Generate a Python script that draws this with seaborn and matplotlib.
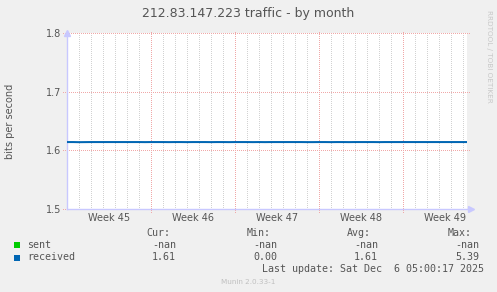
import matplotlib
matplotlib.use("Agg")
import matplotlib.pyplot as plt
import seaborn as sns
import pandas as pd
import numpy as np

# ---- data ----
title = "212.83.147.223 traffic - by month"
ylabel = "bits per second"
week_labels = ["Week 45", "Week 46", "Week 47", "Week 48", "Week 49"]
week_label_pos = [3.5, 10.5, 17.5, 24.5, 31.5]     # days from left edge
week_bounds = [7, 14, 21, 28]                       # Monday boundaries (days)
x_days = [0.0, 0.5, 1.0, 1.5, 2.0, 2.5, 3.0, 3.5, 4.0, 4.5, 5.0, 5.5, 6.0, 6.5,
          7.0, 7.5, 8.0, 8.5, 9.0, 9.5, 10.0, 10.5, 11.0, 11.5, 12.0, 12.5, 13.0,
          13.5, 14.0, 14.5, 15.0, 15.5, 16.0, 16.5, 17.0, 17.5, 18.0, 18.5, 19.0,
          19.5, 20.0, 20.5, 21.0, 21.5, 22.0, 22.5, 23.0, 23.5, 24.0, 24.5, 25.0,
          25.5, 26.0, 26.5, 27.0, 27.5, 28.0, 28.5, 29.0, 29.5, 30.0, 30.5, 31.0,
          31.5, 32.0, 32.5, 33.0, 33.33]
received = [1.6143, 1.6143, 1.6141, 1.6142, 1.6143, 1.6143, 1.6143, 1.6143,
            1.6143, 1.6143, 1.6143, 1.6143, 1.6143, 1.6142, 1.6143, 1.6143,
            1.6143, 1.6142, 1.6143, 1.6143, 1.6142, 1.6143, 1.6143, 1.6143,
            1.6142, 1.6143, 1.6143, 1.6142, 1.6143, 1.6143, 1.6143, 1.6142,
            1.6143, 1.6142, 1.6143, 1.6143, 1.6143, 1.6143, 1.6143, 1.6143,
            1.6142, 1.6142, 1.6143, 1.6143, 1.6142, 1.6143, 1.6143, 1.6142,
            1.6143, 1.6143, 1.6143, 1.6143, 1.6142, 1.6143, 1.6143, 1.6143,
            1.6143, 1.6143, 1.6143, 1.6143, 1.6143, 1.6143, 1.6143, 1.6143,
            1.6143, 1.6143, 1.6143, 1.6143]
yticks = [1.5, 1.6, 1.7, 1.8]
legend_names = ["sent", "received"]
legend_colors = ["#00cc00", "#0066b3"]
col_headers = ["Cur:", "Min:", "Avg:", "Max:"]
sent_vals = ["-nan", "-nan", "-nan", "-nan"]
recv_vals = ["1.61", "0.00", "1.61", "5.39"]
last_update = "Last update: Sat Dec  6 05:00:17 2025"
munin_ver = "Munin 2.0.33-1"
watermark = "RRDTOOL / TOBI OETIKER"

W, H = 497, 292
BG = "#f0f0f0"
TXT = "#555555"

fig = plt.figure(figsize=(W / 100, H / 100), dpi=100, facecolor=BG)
L, R, T, B = 67, 467, 33.3, 209
ax = fig.add_axes([L / W, 1 - B / H, (R - L) / W, (B - T) / H])
ax.set_facecolor("white")

df = pd.DataFrame({"day": x_days, "value": received})
sns.lineplot(data=df, x="day", y="value", ax=ax, color=legend_colors[1],
             linewidth=1.45, zorder=5)

xmax = (R - L) / 12.0
ax.set_xlim(0, xmax)
ax.set_ylim(1.5, 1.8)

grid_kw = dict(lw=0.72, ls=(0, (1, 2)), antialiased=False, snap=True)
for d in range(1, 34):
    if d in week_bounds:
        continue
    ax.axvline(d, color="#d2d2d2", zorder=1, **grid_kw)
for d in week_bounds:
    ax.axvline(d, color="#f0a8a8", zorder=2, ymin=-0.015, ymax=1.015,
               clip_on=False, **grid_kw)
for yv in yticks:
    ax.axhline(yv, color="#f0a8a8", zorder=2, xmin=-0.01, xmax=1.01,
               clip_on=False, **grid_kw)

ax.set_yticks(yticks)
ax.set_yticklabels([f"{v:.1f}" for v in yticks])
ax.set_xticks(week_label_pos)
ax.set_xticklabels(week_labels)
ax.tick_params(axis="both", length=0, labelsize=7, colors=TXT, pad=4)
ax.tick_params(axis="x", pad=3)
ax.set_xlabel("")
ax.set_ylabel("")

for s in ["top", "right"]:
    ax.spines[s].set_visible(False)
for s in ["left", "bottom"]:
    ax.spines[s].set_color("#c8c8ff")
    ax.spines[s].set_linewidth(1.0)
    ax.spines[s].set_zorder(3)

# axis arrows
ax.plot([0], [1.0], marker="^", markersize=5, color="#c8c8ff",
        transform=ax.transAxes, clip_on=False)
ax.plot([1.01], [0], marker=">", markersize=5, color="#c8c8ff",
        transform=ax.transAxes, clip_on=False)

def ftext(x, y, s, **kw):
    fig.text(x / W, 1 - y / H, s, **kw)

ftext(248, 13, title, ha="center", va="center", fontsize=9, color=TXT)
ftext(10, 121, ylabel, ha="center", va="center", rotation=90, fontsize=7, color=TXT)
ftext(489, 56, watermark, ha="center", va="center", rotation=-90, fontsize=5.2,
      color="#c8c8c8")

mono = dict(family="DejaVu Sans Mono", fontsize=7.2, color=TXT, va="center")
col_right = [176, 277, 378, 479]
col_head_left = [146, 247, 347, 448]
for hl, h in zip(col_head_left, col_headers):
    ftext(hl, 233.5, h, ha="left", **mono)
rows_y = [245, 257.5]
for ry, name, colr in zip(rows_y, legend_names, legend_colors):
    fig.patches.append(matplotlib.patches.Rectangle(
        (14 / W, 1 - (ry + 3) / H), 6 / W, 6 / H, transform=fig.transFigure,
        facecolor=colr, edgecolor="none"))
    ftext(27, ry, name, ha="left", **mono)
for cr, sv, rv in zip(col_right, sent_vals, recv_vals):
    ftext(cr, rows_y[0], sv, ha="right", **mono)
    ftext(cr, rows_y[1], rv, ha="right", **mono)
ftext(262, 269.5, last_update, ha="left", **mono)
ftext(248, 281.5, munin_ver, ha="center", va="center", fontsize=5.2, color="#c0c0c0")

fig.savefig("out.png", dpi=100, facecolor=BG)
